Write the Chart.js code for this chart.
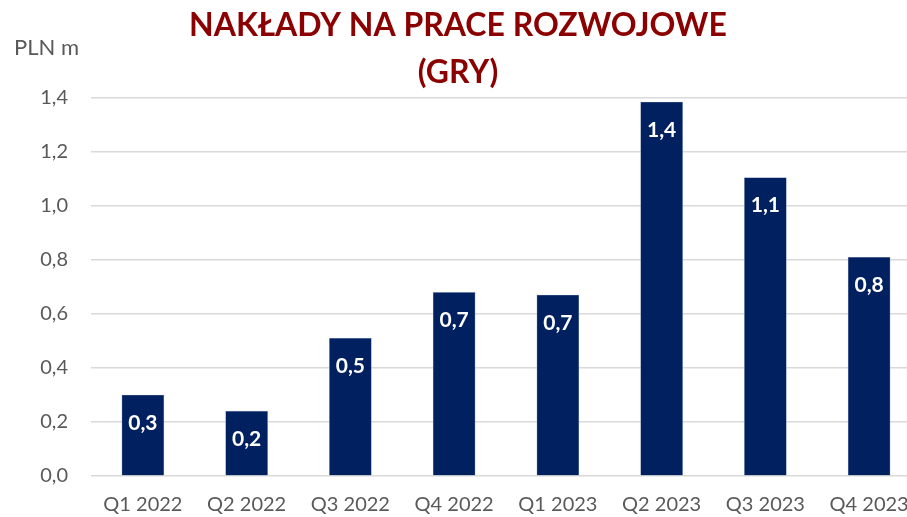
<!DOCTYPE html>
<html>
<head>
<meta charset="utf-8">
<script src="https://cdn.jsdelivr.net/npm/chart.js@4"></script>
<style>
    html, body { margin: 0; padding: 0; background: #fff; overflow: hidden; }
    #wrap { position: relative; width: 934px; height: 517px; }
</style>
</head>
<body>
<div id="wrap"><canvas id="devChart"></canvas></div>
<script>
const kwartaly = ['Q1 2022', 'Q2 2022', 'Q3 2022', 'Q4 2022', 'Q1 2023', 'Q2 2023', 'Q3 2023', 'Q4 2023'];
const naklady = [0.30, 0.24, 0.51, 0.68, 0.67, 1.385, 1.105, 0.81];
const tytul = ['NAKŁADY NA PRACE ROZWOJOWE', '(GRY)'];
const jednostka = 'PLN m';

const FONT = 'Lato, "Open Sans", sans-serif';
const fmt = v => v.toFixed(1).replace('.', ',');

// tytuł, jednostka i etykiety wartości
const extras = {
    id: 'extras',
    afterDatasetsDraw(chart) {
        const ctx = chart.ctx;
        ctx.save();
        ctx.textAlign = 'center';
        ctx.textBaseline = 'middle';
        ctx.fillStyle = '#ffffff';
        ctx.font = 'bold 21px ' + FONT;
        chart.getDatasetMeta(0).data.forEach((bar, i) => {
            ctx.fillText(fmt(naklady[i]), bar.x, bar.y + 28);
        });
        ctx.restore();
    },
    afterDraw(chart) {
        const ctx = chart.ctx;
        ctx.save();
        ctx.textAlign = 'center';
        ctx.textBaseline = 'middle';
        ctx.fillStyle = '#8b0000';
        ctx.font = 'bold 32px ' + FONT;
        ctx.fillText(tytul[0], 458, 26);
        ctx.fillText(tytul[1], 458, 73);
        ctx.textAlign = 'left';
        ctx.fillStyle = '#595959';
        ctx.font = '22px ' + FONT;
        ctx.fillText(jednostka, 14, 48);
        ctx.restore();
    }
};

new Chart(document.getElementById('devChart'), {
    type: 'bar',
    data: {
        labels: kwartaly,
        datasets: [{
            data: naklady,
            backgroundColor: '#002060',
            borderColor: '#8ea0c4',
            borderWidth: 0.6,
            barThickness: 42
        }]
    },
    options: {
        responsive: true,
        maintainAspectRatio: false,
        animation: false,
        layout: { padding: { top: 98, right: 13, bottom: 0, left: 0 } },
        plugins: {
            legend: { display: false },
            tooltip: { enabled: false }
        },
        scales: {
            y: {
                min: 0,
                max: 1.4,
                afterFit: s => { s.width = 91; },
                border: { display: false },
                grid: { color: '#d9d9d9', lineWidth: 1.5, drawTicks: false },
                ticks: {
                    stepSize: 0.2,
                    padding: 23,
                    color: '#595959',
                    font: { family: FONT, size: 20 },
                    callback: v => fmt(v)
                }
            },
            x: {
                afterFit: s => { s.height = 41; },
                border: { display: false },
                grid: { display: false, drawTicks: false },
                ticks: {
                    padding: 17,
                    color: '#595959',
                    maxRotation: 0,
                    autoSkip: false,
                    font: { family: FONT, size: 20 }
                }
            }
        }
    },
    plugins: [extras]
});
</script>
</body>
</html>
